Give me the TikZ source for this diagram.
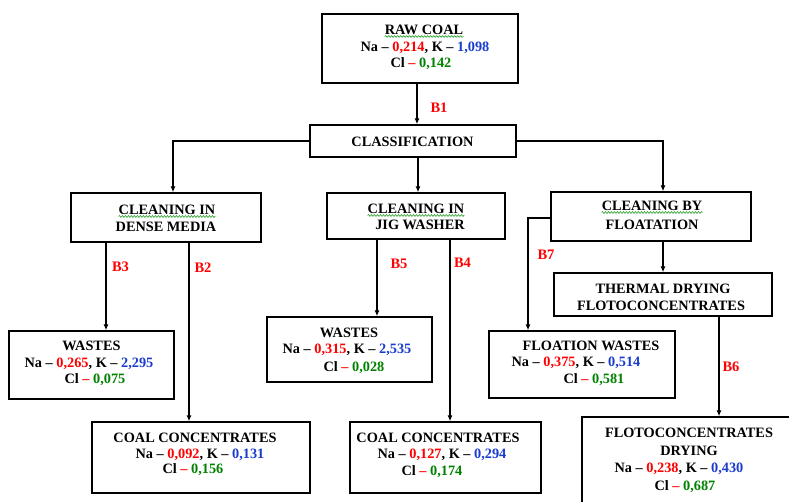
\documentclass[tikz,border=0pt]{standalone}
\usepackage{fontspec}
\setmainfont{Liberation Serif}
\usetikzlibrary{arrows.meta,decorations.pathmorphing}
\definecolor{valred}{RGB}{255,0,0}
\definecolor{valblue}{RGB}{25,60,205}
\definecolor{valgreen}{RGB}{0,130,0}
\definecolor{squiggreen}{RGB}{40,160,40}
\newcommand{\vR}[1]{\textcolor{valred}{#1}}
\newcommand{\vB}[1]{\textcolor{valblue}{#1}}
\newcommand{\vG}[1]{\textcolor{valgreen}{#1}}
\begin{document}
\begin{tikzpicture}[x=1pt,y=-1pt,
  box/.style={draw, line width=1.4pt, rectangle, inner sep=0pt},
  txt/.style={anchor=base, inner sep=0pt, font=\fontsize{14.3}{16}\selectfont\bfseries},
  conn/.style={line width=1.1pt, -{Latex[length=6pt,width=5pt]}},
  blabel/.style={inner sep=0pt, text=valred, font=\fontsize{14.5}{14.5}\selectfont\bfseries},
  squig/.style={draw=squiggreen, line width=0.6pt, decorate,
    decoration={snake, amplitude=0.9pt, segment length=3pt}}]
\useasboundingbox (0,0) rectangle (789,502);
\clip (0,0) rectangle (789,502);

% boxes
\node[box, minimum width=196pt, minimum height=69pt] (raw)   at (420,48.5)  {};
\node[box, minimum width=206pt, minimum height=32pt] (class) at (413,141)   {};
\node[box, minimum width=190pt, minimum height=49pt] (dense) at (166,217.5) {};
\node[box, minimum width=178pt, minimum height=46pt] (jig)   at (416,216)   {};
\node[box, minimum width=200pt, minimum height=49pt] (flot)  at (651,216.5) {};
\node[box, minimum width=218pt, minimum height=43pt] (therm) at (663,294.5) {};
\node[box, minimum width=165pt, minimum height=68pt] (wastL) at (91.5,365)  {};
\node[box, minimum width=165pt, minimum height=65pt] (wastM) at (349.5,349.5) {};
\node[box, minimum width=186pt, minimum height=67pt] (fwast) at (582,364.5) {};
\node[box, minimum width=218pt, minimum height=71pt] (concL) at (201,457.5) {};
\node[box, minimum width=191pt, minimum height=71pt] (concM) at (445.5,457.5) {};
\node[box, minimum width=228pt, minimum height=103pt] (dry)  at (696,468.5) {};

% texts
\node[txt] (rawA) at (424,35) {RAW COAL};
\node[txt] (rawB) at (425,52) {Na -- \vR{0,214}, K -- \vB{1,098}};
\node[txt] (rawC) at (421,68) {Cl \vR{--} \vG{0,142}};

\node[txt] (classA) at (412.5,147) {CLASSIFICATION};

\node[txt] (denseA) at (167,215) {CLEANING IN};
\node[txt] (denseB) at (166,232) {DENSE MEDIA};

\node[txt] (jigA) at (416,214) {CLEANING IN};
\node[txt] (jigB) at (420,230) {JIG WASHER};

\node[txt] (flotA) at (652,211) {CLEANING BY};
\node[txt] (flotB) at (652,230) {FLOATATION};

\node[txt] (thermA) at (663,294) {THERMAL DRYING};
\node[txt] (thermB) at (661,310) {FLOTOCONCENTRATES};

\node[txt] (wastLA) at (91.5,350) {WASTES};
\node[txt] (wastLB) at (89,367) {Na -- \vR{0,265}, K -- \vB{2,295}};
\node[txt] (wastLC) at (95,383) {Cl \vR{--} \vG{0,075}};

\node[txt] (wastMA) at (349,337) {WASTES};
\node[txt] (wastMB) at (347,353) {Na -- \vR{0,315}, K -- \vB{2,535}};
\node[txt] (wastMC) at (354,371) {Cl \vR{--} \vG{0,028}};

\node[txt] (fwastA) at (591,350) {FLOATION WASTES};
\node[txt] (fwastB) at (576,366) {Na -- \vR{0,375}, K -- \vB{0,514}};
\node[txt] (fwastC) at (594,383) {Cl \vR{--} \vG{0,581}};

\node[txt] (concLA) at (195,442) {COAL CONCENTRATES};
\node[txt] (concLB) at (200,458) {Na -- \vR{0,092}, K -- \vB{0,131}};
\node[txt] (concLC) at (193,473) {Cl \vR{--} \vG{0,156}};

\node[txt] (concMA) at (438,442) {COAL CONCENTRATES};
\node[txt] (concMB) at (442,458) {Na -- \vR{0,127}, K -- \vB{0,294}};
\node[txt] (concMC) at (432,475) {Cl \vR{--} \vG{0,174}};

\node[txt] (dryA) at (689,437) {FLOTOCONCENTRATES};
\node[txt] (dryB) at (689,455) {DRYING};
\node[txt] (dryC) at (679,472) {Na -- \vR{0,238}, K -- \vB{0,430}};
\node[txt] (dryD) at (685,490) {Cl \vR{--} \vG{0,687}};

% spell-check squiggles
\foreach \t in {rawA,denseA,jigA,flotA}
  \draw[squig] ([yshift=-1.5pt]\t.base west) -- ([yshift=-1.5pt]\t.base east);

% connectors
\draw[conn] ([xshift=-3pt]raw.south) -- ([xshift=-3pt]raw.south |- class.north);
\draw[conn] (class.west) -| ([xshift=7pt]dense.north);
\draw[conn] ([xshift=5pt]class.south) -- ([xshift=5pt]class.south |- jig.north);
\draw[conn] (class.east) -| ([xshift=12pt]flot.north);

\draw[conn] ([xshift=-60pt]dense.south) -- ([xshift=-60pt]dense.south |- wastL.north);
\draw[conn] ([xshift=23pt]dense.south) -- ([xshift=23pt]dense.south |- concL.north);

\draw[conn] ([xshift=-39pt]jig.south) -- ([xshift=-39pt]jig.south |- wastM.north);
\draw[conn] ([xshift=34pt]jig.south) -- ([xshift=34pt]jig.south |- concM.north);

\draw[conn] ([yshift=-1.5pt]flot.west) -| ([xshift=-54pt]fwast.north);
\draw[conn] ([xshift=12pt]flot.south) -- ([xshift=12pt]flot.south |- therm.north);
\draw[conn] ([xshift=56pt]therm.south) -- ([xshift=56pt]therm.south |- dry.north);

% stream labels
\node[blabel] (b1) at (439,108)   {B1};
\node[blabel] (b3) at (120.5,267) {B3};
\node[blabel] (b2) at (203,268)   {B2};
\node[blabel] (b5) at (399,264)   {B5};
\node[blabel] (b4) at (462.5,262.5) {B4};
\node[blabel] (b7) at (546,255)   {B7};
\node[blabel] (b6) at (731,367)   {B6};
\end{tikzpicture}
\end{document}
